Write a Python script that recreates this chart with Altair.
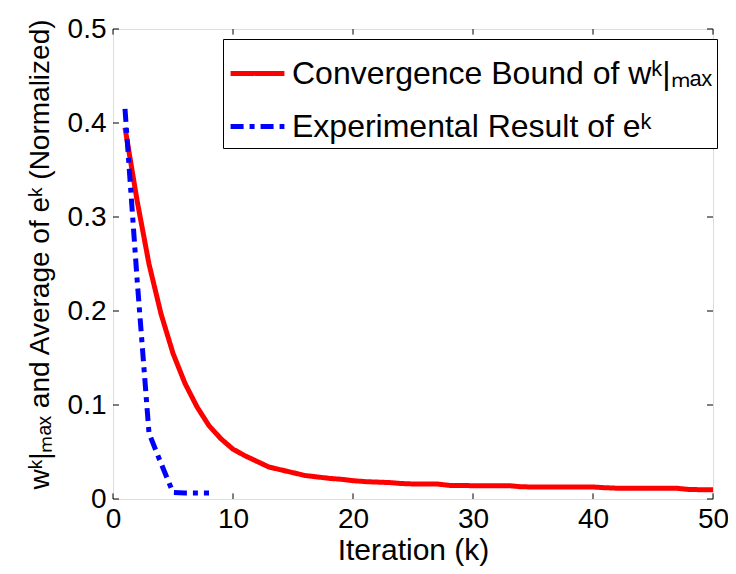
import altair as alt
import pandas as pd

# ---- data ----
red_k = list(range(1, 51))
red_v = [0.395, 0.318, 0.250, 0.197, 0.155, 0.123, 0.098, 0.078, 0.064, 0.053,
         0.046, 0.040, 0.034, 0.031, 0.028, 0.025, 0.0235, 0.022, 0.021, 0.0195,
         0.0185, 0.018, 0.0175, 0.0165, 0.016, 0.016, 0.016, 0.0145, 0.0143, 0.0142,
         0.0142, 0.0142, 0.0142, 0.013, 0.0128, 0.0128, 0.0128, 0.0128, 0.0128, 0.0128,
         0.012, 0.0115, 0.0114, 0.0114, 0.0114, 0.0114, 0.0114, 0.0101, 0.0099, 0.0099]
blue_k = [1, 2, 3, 4, 5, 6, 7, 8]
blue_v = [0.415, 0.235, 0.070, 0.038, 0.007, 0.0065, 0.0065, 0.0065]

name_red = "Convergence Bound of wᵏ|ₘₐₓ"
name_blue = "Experimental Result of eᵏ"
series_names = [name_red, name_blue]

x_ticks = [0, 10, 20, 30, 40, 50]
y_ticks = [0, 0.1, 0.2, 0.3, 0.4, 0.5]

FONT = "Liberation Sans"

df = pd.DataFrame({
    "k": red_k + blue_k,
    "value": red_v + blue_v,
    "series": [name_red] * len(red_k) + [name_blue] * len(blue_k),
})

xs = alt.Scale(domain=[0, 50], nice=False, zero=False)
ys = alt.Scale(domain=[0, 0.5], nice=False)

lines = alt.Chart(df).mark_line(strokeWidth=5, clip=True).encode(
    x=alt.X("k:Q", scale=xs, axis=alt.Axis(
        values=x_ticks, title="Iteration (k)", format="d",
        ticks=False, domain=False, grid=False, labelPadding=6, labelFlush=False,
        labelFontSize=28, titleFontSize=30, labelFont=FONT, titleFont=FONT,
        labelColor="black", titleColor="black", titleFontWeight="normal",
        titleY=66, titleBaseline="bottom")),
    y=alt.Y("value:Q", scale=ys, axis=alt.Axis(
        values=y_ticks, title="wᵏ|ₘₐₓ and Average of eᵏ (Normalized)",
        format="~g", ticks=False, domain=False, grid=False, labelPadding=7,
        labelFlush=False,
        labelFontSize=28, titleFontSize=28, labelFont=FONT, titleFont=FONT,
        labelColor="black", titleColor="black", titleFontWeight="normal",
        titleX=-73, titleY=225, titleAlign="center", titleBaseline="middle")),
    color=alt.Color("series:N", sort=series_names,
                    scale=alt.Scale(domain=series_names, range=["#ff0000", "#0000ff"]),
                    legend=alt.Legend(
                        orient="none", legendX=110, legendY=10, title=None,
                        labelFontSize=32, labelFont=FONT, labelColor="black",
                        labelLimit=800, symbolType="stroke", symbolSize=2900,
                        symbolStrokeWidth=5, rowPadding=7, padding=5,
                        labelOffset=5, strokeColor="black", fillColor="white",
                        cornerRadius=0)),
    strokeDash=alt.StrokeDash("series:N", sort=series_names,
                              scale=alt.Scale(domain=series_names,
                                              range=[[1, 0], [13, 6, 5, 6]]),
                              legend=None),
)

# inner tick marks (MATLAB style)
xt = pd.DataFrame({"t": x_ticks})
yt = pd.DataFrame({"t": y_ticks})
tick_len_y = 0.006
tick_len_x = 0.5
xb = alt.Chart(xt).mark_rule(color="black", strokeWidth=1).encode(
    x=alt.X("t:Q", scale=xs), y=alt.datum(0), y2=alt.datum(tick_len_y))
xtop = alt.Chart(xt).mark_rule(color="black", strokeWidth=1).encode(
    x=alt.X("t:Q", scale=xs), y=alt.datum(0.5), y2=alt.datum(0.5 - tick_len_y))
yl = alt.Chart(yt).mark_rule(color="black", strokeWidth=1).encode(
    y=alt.Y("t:Q", scale=ys), x=alt.datum(0), x2=alt.datum(tick_len_x))
yr = alt.Chart(yt).mark_rule(color="black", strokeWidth=1).encode(
    y=alt.Y("t:Q", scale=ys), x=alt.datum(50), x2=alt.datum(50 - tick_len_x))

chart = alt.layer(xb, xtop, yl, yr, lines).properties(
    width=600, height=470,
    autosize=alt.AutoSizeParams(type="none"),
    padding={"left": 105, "top": 21, "right": 15, "bottom": 67},
).configure_view(stroke="black", strokeWidth=1.2).configure(background="white")

chart.save("out.html", embed_options={"renderer": "svg", "actions": False})
